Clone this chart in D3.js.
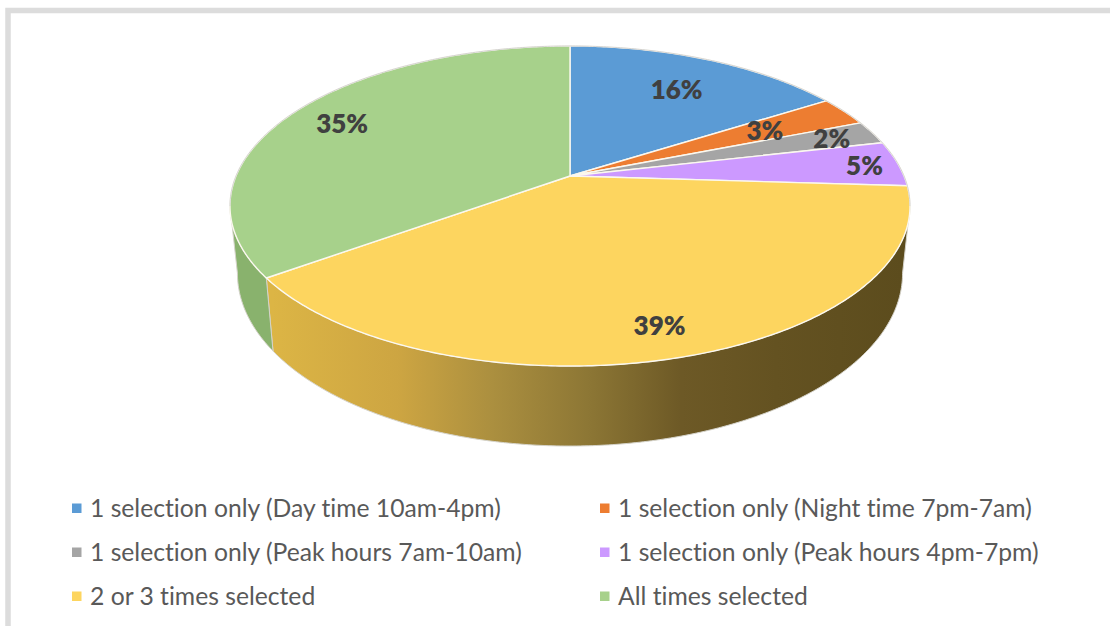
<!DOCTYPE html>
<html>
<head>
    <title>Time selection pie</title>
    <script src="https://d3js.org/d3.v7.min.js"></script>
    <style>
        html, body { margin: 0; padding: 0; background: #fff; }
        svg { display: block; }
        text { font-variant-ligatures: none; }
        .legend text { font-family: Lato, sans-serif; font-size: 24.7px; fill: #595959; dominant-baseline: middle; }
        .labels text { font-family: Lato, sans-serif; font-size: 26px; font-weight: 800; fill: #404040; text-anchor: middle; dominant-baseline: middle; }
    </style>
</head>
<body>
    <div id="chart"></div>

    <script>
        const categories = [
            "1 selection only (Day time 10am-4pm)",
            "1 selection only (Night time 7pm-7am)",
            "1 selection only (Peak hours 7am-10am)",
            "1 selection only (Peak hours 4pm-7pm)",
            "2 or 3 times selected",
            "All times selected"
        ];
        const shares = [0.16, 0.03, 0.024, 0.046, 0.39, 0.35];
        const colors = ["#5b9bd5", "#ed7d31", "#a5a5a5", "#cc99ff", "#fdd55f", "#a7d18b"];

        const width = 1110;
        const height = 626;

        // the pie is tilted, so circle points go through a small perspective
        const cx = 570, cy = 176;
        const radiusX = 334, radiusY = 154.4, persp = 0.1875;
        const wallDrop = 65, wallShrink = 0.978;

        // how far out each label sits, as a fraction of the radius, plus a small sideways nudge
        const labelRadius = [0.72, 0.69, 0.86, 0.9, 0.85, 0.8];
        const labelNudge = [3, 1, 0, -1, -4, -5];

        const svg = d3.select("#chart")
            .append("svg")
            .attr("width", width)
            .attr("height", height);

        // frame around the chart, cut by the page edges
        svg.append("path")
            .attr("d", "M8 626V10.5H1110")
            .attr("fill", "none")
            .attr("stroke", "#dcdcdc")
            .attr("stroke-width", 5.5);

        const color = d3.scaleOrdinal().domain(categories).range(colors);

        const defs = svg.append("defs");
        const wallGrad = defs.append("linearGradient")
            .attr("id", "wall-yellow")
            .attr("gradientUnits", "userSpaceOnUse")
            .attr("x1", 272).attr("x2", 902).attr("y1", 0).attr("y2", 0);
        [[0, "#dcb545"], [0.2, "#cda542"], [0.35, "#ab8f3f"], [0.5, "#8d7735"], [0.65, "#6d5926"], [0.8, "#645221"], [1, "#5c4c1d"]]
            .forEach(s => wallGrad.append("stop").attr("offset", s[0]).attr("stop-color", s[1]));

        const pie = d3.pie().sort(null).value(d => d.share);
        const arcs = pie(categories.map((c, i) => ({ name: c, share: shares[i] })));

        function topPoint(angle, r = 1) {
            const u = r * Math.sin(angle), v = -r * Math.cos(angle);
            const w = 1 - persp * v;
            return [cx + radiusX * u / w, cy + radiusY * v / w];
        }

        function lowPoint(angle) {
            const u = Math.sin(angle), v = -Math.cos(angle);
            const w = 1 - persp * v;
            return [cx + wallShrink * radiusX * u / w, cy + (radiusY * v + wallDrop) / w];
        }

        function rim(a, b) {
            const n = Math.max(2, Math.ceil((b - a) / 0.01));
            return d3.range(n + 1).map(i => a + (b - a) * i / n);
        }

        const line = d3.line();

        // only the front part of the rim shows a wall
        const frontStart = Math.PI - Math.acos(persp);
        const frontEnd = Math.PI + Math.acos(persp);

        const walls = arcs
            .map(d => ({
                name: d.data.name,
                a: Math.max(d.startAngle, frontStart),
                b: Math.min(d.endAngle, frontEnd)
            }))
            .filter(d => d.a < d.b);

        svg.append("g")
            .selectAll("path")
            .data(walls)
            .enter()
            .append("path")
            .attr("d", d => line(rim(d.a, d.b).map(a => topPoint(a)).concat(rim(d.a, d.b).reverse().map(lowPoint))) + "Z")
            .attr("fill", d => d.name === categories[4] ? "url(#wall-yellow)" : "#89b26d")
            .attr("stroke", "#d5d3ca")
            .attr("stroke-width", 1);

        svg.append("g")
            .selectAll("path")
            .data(arcs)
            .enter()
            .append("path")
            .attr("d", d => line([[cx, cy]].concat(rim(d.startAngle, d.endAngle).map(a => topPoint(a)))) + "Z")
            .attr("fill", d => color(d.data.name))
            .attr("stroke", "#fbf8ef")
            .attr("stroke-width", 1.4)
            .attr("stroke-linejoin", "round");

        // thin grey edge along the back of the disc
        svg.append("path")
            .attr("d", line(rim(frontEnd - 2 * Math.PI, frontStart).map(a => topPoint(a))))
            .attr("fill", "none")
            .attr("stroke", "#c9c9c9")
            .attr("stroke-width", 0.8);

        svg.append("g")
            .attr("class", "labels")
            .selectAll("text")
            .data(arcs)
            .enter()
            .append("text")
            .attr("x", (d, i) => topPoint((d.startAngle + d.endAngle) / 2, labelRadius[i])[0] + labelNudge[i])
            .attr("y", (d, i) => topPoint((d.startAngle + d.endAngle) / 2, labelRadius[i])[1])
            .attr("dy", 3)
            .text(d => d3.format(".0%")(d.data.share));

        // legend, two columns and three rows
        const legendX = d3.scalePoint().domain([0, 1]).range([72, 600]);
        const legendY = d3.scalePoint().domain([0, 1, 2]).range([508, 596]);

        const legend = svg.append("g")
            .attr("class", "legend")
            .selectAll("g")
            .data(categories)
            .enter()
            .append("g")
            .attr("transform", (d, i) => `translate(${legendX(i % 2)},${legendY(Math.floor(i / 2))})`);

        legend.append("rect")
            .attr("x", 0)
            .attr("y", -4.5)
            .attr("width", 9.5)
            .attr("height", 9.5)
            .attr("fill", d => color(d));

        legend.append("text")
            .attr("x", 18)
            .attr("y", 2.5)
            .text(d => d);
    </script>
</body>
</html>
